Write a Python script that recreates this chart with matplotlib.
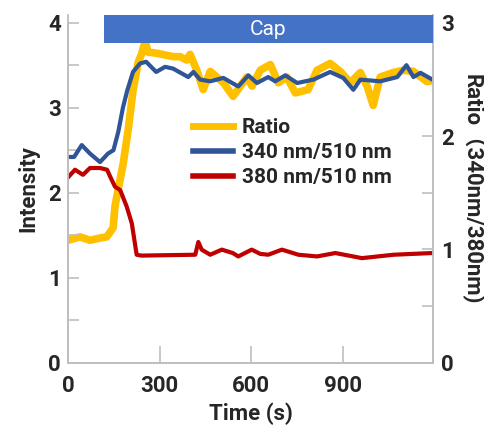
import matplotlib.pyplot as plt
from matplotlib.lines import Line2D

plt.rcParams['font.family'] = ['Roboto', 'Noto Sans CJK JP', 'DejaVu Sans']

# data
t_ratio = [0, 39, 72, 105, 127, 148, 154, 164, 181, 197, 213, 230, 242, 253, 262,
           291, 345, 367, 389, 400, 422, 443, 466, 509, 541, 586, 603, 630, 663, 689,
           717, 745, 787, 816, 859, 892, 925, 958, 980, 1000, 1023, 1066, 1099, 1132,
           1176, 1194]
ratio = [1.08, 1.11, 1.08, 1.10, 1.11, 1.19, 1.38, 1.52, 1.76, 2.05, 2.40, 2.65, 2.73,
         2.84, 2.74, 2.73, 2.70, 2.70, 2.67, 2.72, 2.58, 2.41, 2.57, 2.47, 2.35, 2.52,
         2.44, 2.58, 2.63, 2.47, 2.52, 2.38, 2.41, 2.58, 2.64, 2.57, 2.47, 2.56, 2.44,
         2.27, 2.52, 2.56, 2.58, 2.57, 2.48, 2.49]

t_340 = [0, 20, 45, 72, 105, 131, 149, 165, 180, 194, 213, 236, 256, 289, 318, 344,
         374, 394, 411, 433, 466, 509, 538, 558, 591, 619, 656, 679, 712, 751, 804,
         859, 902, 935, 958, 1023, 1079, 1109, 1132, 1155, 1194]
i_340 = [2.42, 2.42, 2.56, 2.46, 2.36, 2.46, 2.50, 2.72, 3.00, 3.20, 3.42, 3.52, 3.54,
         3.42, 3.48, 3.46, 3.40, 3.36, 3.42, 3.33, 3.31, 3.35, 3.29, 3.25, 3.38, 3.29,
         3.36, 3.31, 3.38, 3.29, 3.33, 3.42, 3.35, 3.21, 3.33, 3.31, 3.36, 3.50, 3.36,
         3.41, 3.33]

t_380 = [0, 23, 49, 72, 105, 128, 138, 154, 171, 192, 209, 225, 240, 417, 427, 438,
         466, 504, 540, 558, 602, 630, 656, 701, 755, 816, 876, 963, 1067, 1193]
i_380 = [2.18, 2.27, 2.21, 2.29, 2.29, 2.27, 2.19, 2.07, 2.03, 1.84, 1.64, 1.27, 1.26,
         1.27, 1.42, 1.33, 1.27, 1.33, 1.29, 1.25, 1.33, 1.28, 1.27, 1.33, 1.27, 1.25,
         1.29, 1.23, 1.27, 1.29]

cap_start, cap_end = 118, 1196
x_ticks = [0, 300, 600, 900]

c_ratio = '#FFC000'
c_340 = '#2F5597'
c_380 = '#C00000'
c_axis = '#BFBFBF'
c_text = '#262626'
fw = 'bold'

fig = plt.figure(figsize=(4.85, 4.26), dpi=100)
ax = fig.add_axes([68 / 485, 63.3 / 426, 365 / 485, 347.7 / 426])
ax2 = ax.twinx()

ax2.plot(t_ratio, ratio, color=c_ratio, lw=5.5, solid_joinstyle='round')
ax.plot(t_340, i_340, color=c_340, lw=3)
ax.plot(t_380, i_380, color=c_380, lw=3)

# left axis drawn above the twin so blue/red sit on top of the yellow
ax.set_zorder(ax2.get_zorder() + 1)
ax.patch.set_visible(False)

ax.set_xlim(0, 1196)
ax.set_ylim(0, 4.09)
ax2.set_ylim(0, 4.09 * 3 / 4)

# stimulus bar
ax.broken_barh([(cap_start, cap_end - cap_start)], (3.76, 0.33), facecolors='#4472C4',
               clip_on=False, zorder=5)
ax.text((cap_start + cap_end) / 2, 3.925, 'Cap', color='white', fontsize=15,
        ha='center', va='center', zorder=6)

for a in (ax, ax2):
    a.spines['top'].set_visible(False)
    for s in ('left', 'right', 'bottom'):
        a.spines[s].set_color(c_axis)
        a.spines[s].set_linewidth(1.3)
ax.spines['left'].set_bounds(0, 4)
ax2.spines['right'].set_bounds(0, 4.09 * 3 / 4)

ax.set_xticks(x_ticks)
ax.set_yticks([0, 1, 2, 3, 4])
ax.set_yticks([0.5, 1.5, 2.5, 3.5], minor=True)
ax2.set_yticks([0, 1, 2, 3])
ax2.set_yticks([0.5, 1.5, 2.5], minor=True)

ax.tick_params(axis='x', direction='in', length=12, width=1.2, color=c_axis,
               labelsize=16, labelcolor=c_text, pad=9)
ax.tick_params(axis='y', which='both', direction='in', length=8, width=1.2,
               color=c_axis, labelsize=16, labelcolor=c_text, pad=5)
ax2.tick_params(axis='y', which='both', direction='in', length=8, width=1.2,
                color=c_axis, labelsize=16, labelcolor=c_text, pad=6)
for lab in ax.get_xticklabels() + ax.get_yticklabels() + ax2.get_yticklabels():
    lab.set_fontweight(fw)

ax.set_xlabel('Time (s)', fontsize=16, color=c_text, labelpad=4, fontweight=fw)
ax.set_ylabel('Intensity', fontsize=16, color=c_text, labelpad=6, fontweight=fw)
ax2.set_ylabel('Ratio\uff08340nm/380nm)', fontsize=16, color=c_text, rotation=-90,
               labelpad=22, fontweight=fw)

handles = [Line2D([], [], color=c_ratio, lw=5),
           Line2D([], [], color=c_340, lw=4),
           Line2D([], [], color=c_380, lw=4)]
labels = ['Ratio', '340 nm/510 nm', '380 nm/510 nm']
leg = ax.legend(handles, labels, loc='upper left', bbox_to_anchor=(193 / 485, 1 - 118 / 426),
                bbox_transform=fig.transFigure, frameon=False, fontsize=15,
                handlelength=1.9, handletextpad=0.45, labelspacing=0.3,
                borderpad=0, borderaxespad=0)
for txt in leg.get_texts():
    txt.set_color(c_text)
    txt.set_fontweight(fw)

fig.savefig('out.png', dpi=100)
